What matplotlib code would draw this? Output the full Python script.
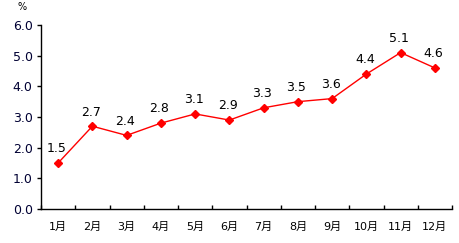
import matplotlib
matplotlib.use("Agg")
import matplotlib.pyplot as plt

plt.rcParams['font.family'] = ['DejaVu Sans', 'Noto Sans CJK SC']

months = ['1月', '2月', '3月', '4月', '5月', '6月', '7月', '8月', '9月', '10月', '11月', '12月']
values = [1.5, 2.7, 2.4, 2.8, 3.1, 2.9, 3.3, 3.5, 3.6, 4.4, 5.1, 4.6]
yticks = [0.0, 1.0, 2.0, 3.0, 4.0, 5.0, 6.0]

fig = plt.figure(figsize=(4.59, 2.43), dpi=100)
ax = fig.add_axes([41 / 459, 34 / 243, 411 / 459, 184 / 243])

x = list(range(len(months)))
ax.plot(x, values, color='#ff0000', lw=1, marker='D', ms=4, mec='#ff0000', mfc='#ff0000')

# data labels above points
for xi, v in zip(x, values):
    ax.annotate(f'{v:.1f}', (xi, v), xytext=(-1, 5.5), textcoords='offset points',
                ha='center', va='bottom', fontsize=9, color='black')

ax.set_xlim(-0.5, len(months) - 0.5)
ax.set_ylim(0, 6)
ax.set_yticks(yticks)
ax.set_yticklabels([f'{t:.1f}' for t in yticks], fontsize=9, color='#000033')

# category labels between-ticks style
ax.set_xticks(x)
ax.set_xticklabels(months, fontsize=8)
ax.tick_params(axis='x', length=0, pad=9)
ax.set_xticks([i - 0.5 for i in range(len(months) + 1)], minor=True)
ax.tick_params(axis='x', which='minor', direction='in', length=3, width=1)
ax.tick_params(axis='y', direction='out', length=3, width=1, pad=3)

for s in ['top', 'right']:
    ax.spines[s].set_visible(False)
ax.spines['left'].set_linewidth(1)
ax.spines['bottom'].set_linewidth(1)

fig.text(22 / 459, 1 - 7 / 243, '%', fontsize=7, ha='center', va='center')

fig.savefig('out.png', dpi=100)
